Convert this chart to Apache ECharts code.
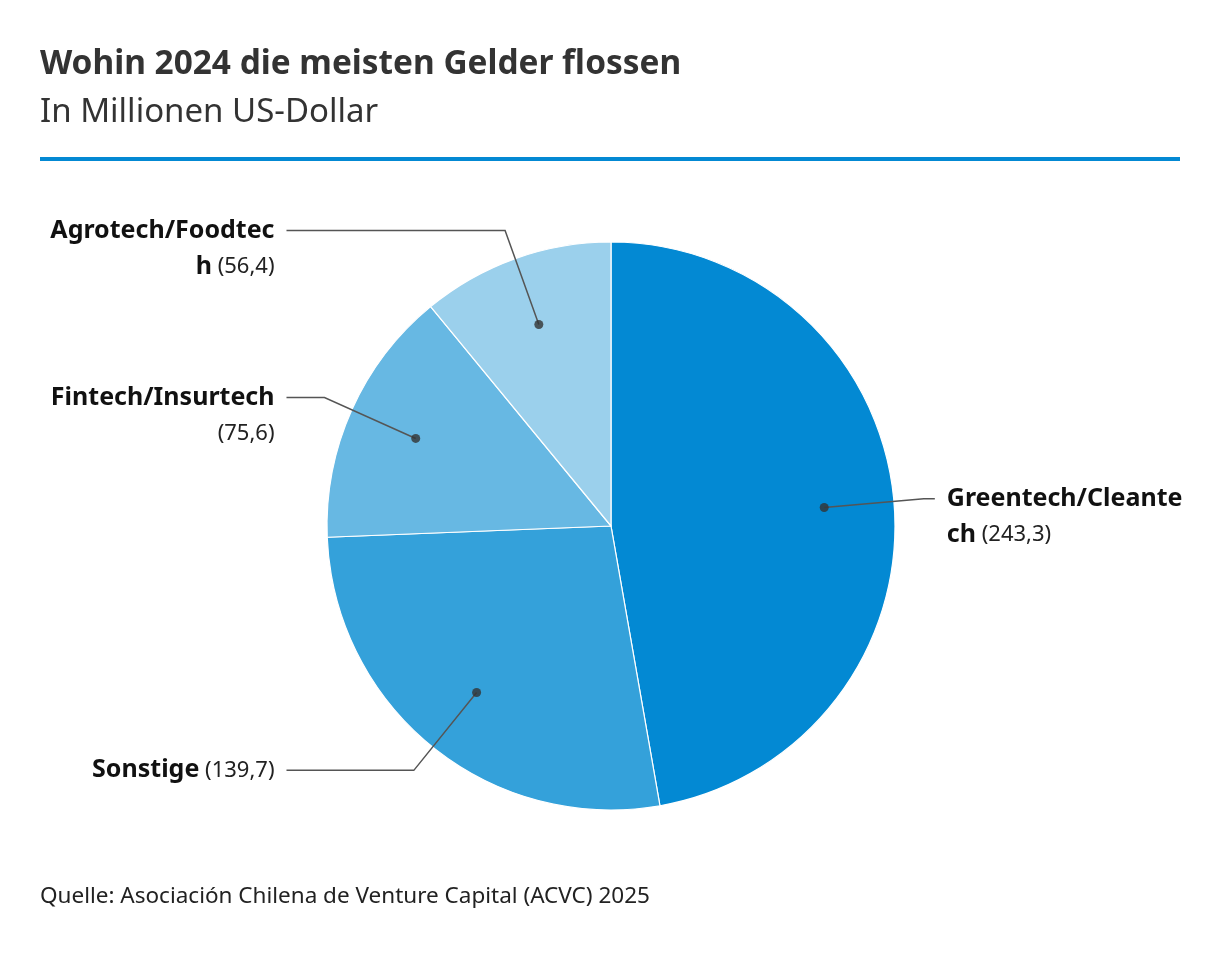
<!DOCTYPE html>
<html><head><meta charset="utf-8">
<script src="https://cdn.jsdelivr.net/npm/echarts@6/dist/echarts.min.js"></script>
<style>html,body{margin:0;padding:0;background:#fff}#c{width:1220px;height:954px}</style>
</head><body><div id="c"></div>
<script>
// ---- data ----
const categories = ['Greentech/Cleantech', 'Sonstige', 'Fintech/Insurtech', 'Agrotech/Foodtech'];
const values = [243.3, 139.7, 75.6, 56.4];
const colors = ['#0389d3', '#34a1da', '#67b8e3', '#9bd0ec'];
const titleText = 'Wohin 2024 die meisten Gelder flossen';
const subtitleText = 'In Millionen US-Dollar';
const sourceText = 'Quelle: Asociación Chilena de Venture Capital (ACVC) 2025';

// ---- styles ----
const FONT = '"Noto Sans", sans-serif';
const LH = 36;
const NAME_SIZE = 25, VALUE_SIZE = 22;
const LABEL_MAX_W = 237;
const len2s = [11, 38, 38, 38];

const total = values.reduce((a, b) => a + b, 0);
const fmtVal = v => '(' + v.toFixed(1).replace('.', ',') + ')';
const mids = [];
let acc = 0;
values.forEach(v => { mids.push(acc + v / 2); acc += v; });

// word wrap with break-word behaviour (like CSS overflow-wrap: break-word)
const ctx = document.createElement('canvas').getContext('2d');
const fonts = { b: 'bold ' + NAME_SIZE + 'px ' + FONT, v: VALUE_SIZE + 'px ' + FONT };
function mw(t, s) { ctx.font = fonts[s]; return ctx.measureText(t).width; }
function wrapLabel(name, value) {
  const words = name.split(' ').map(t => ({ t, s: 'b' })).concat([{ t: fmtVal(value), s: 'v' }]);
  const lines = [[]]; let cw = 0;
  words.forEach(w => {
    const cur = lines[lines.length - 1];
    const sp = cur.length ? mw(' ', w.s) : 0;
    const ww = mw(w.t, w.s);
    if (cw + sp + ww <= LABEL_MAX_W) {
      cur.push({ t: (cur.length ? ' ' : '') + w.t, s: w.s }); cw += sp + ww; return;
    }
    if (ww <= LABEL_MAX_W && cur.length) { lines.push([{ t: w.t, s: w.s }]); cw = ww; return; }
    // break inside the word
    let line = cur.length ? lines.push([]) && lines[lines.length - 1] : cur;
    if (cur.length === 0) cw = 0; else cw = 0;
    let buf = '';
    for (const ch of w.t) {
      const chw = mw(buf + ch, w.s);
      if (chw > LABEL_MAX_W && buf) {
        line.push({ t: buf, s: w.s }); lines.push([]); line = lines[lines.length - 1]; buf = ch;
      } else buf += ch;
    }
    line.push({ t: buf, s: w.s }); cw = mw(buf, w.s);
  });
  const text = lines.filter(l => l.length).map(l => l.map(seg => '{' + seg.s + '|' + seg.t + '}').join('')).join('\n');
  return { text, n: lines.filter(l => l.length).length };
}
const wrapped = categories.map((n, i) => wrapLabel(n, values[i]));

const CENTER = [611, 526];

const chart = echarts.init(document.getElementById('c'), null, { renderer: 'canvas' });
chart.setOption({
  animation: false,
  backgroundColor: '#fff',
  graphic: [
    { type: 'text', left: 40, top: 48, style: { text: titleText, font: 'bold 33.4px ' + FONT, fill: '#333' } },
    { type: 'text', left: 40, top: 96, style: { text: subtitleText, font: '33px ' + FONT, fill: '#333' } },
    { type: 'rect', shape: { x: 40, y: 157, width: 1140, height: 4 }, style: { fill: '#0389d3' } },
    { type: 'text', left: 40, top: 885, style: { text: sourceText, font: '22.5px ' + FONT, fill: '#222' } }
  ],
  polar: { center: CENTER, radius: 214 },
  angleAxis: { type: 'value', min: 0, max: total, startAngle: 90, clockwise: true, show: false },
  radiusAxis: { type: 'value', min: 0, max: 1, show: false },
  series: [
    {
      type: 'pie',
      center: CENTER,
      radius: 284,
      startAngle: 90,
      clockwise: true,
      silent: true,
      label: { show: false },
      labelLine: { show: false },
      itemStyle: { borderColor: '#fff', borderWidth: 1.2 },
      data: categories.map((n, i) => ({ name: n, value: values[i], itemStyle: { color: colors[i] } }))
    },
    {
      type: 'pie',
      center: CENTER,
      radius: 214,
      startAngle: 90,
      clockwise: true,
      silent: true,
      z: 5,
      itemStyle: { color: 'transparent', borderWidth: 0 },
      label: {
        show: true,
        alignTo: 'labelLine',
        distanceToLabelLine: 12,
        formatter: p => wrapped[p.dataIndex].text,
        rich: {
          b: { fontFamily: FONT, fontWeight: 'bold', fontSize: NAME_SIZE, color: '#111', lineHeight: LH },
          v: { fontFamily: FONT, fontSize: VALUE_SIZE, color: '#222', lineHeight: LH }
        }
      },
      labelLine: { show: true, length: 100, lineStyle: { color: '#555', width: 1.5 } },
      data: categories.map((n, i) => ({
        name: n, value: values[i],
        label: { padding: [(wrapped[i].n - 1) * LH, 0, 0, 0] },
        labelLine: { length2: len2s[i] }
      }))
    },
    {
      type: 'scatter',
      coordinateSystem: 'polar',
      silent: true,
      z: 10,
      symbolSize: 9,
      itemStyle: { color: '#333' },
      data: mids.map(m => [1, m])
    }
  ]
});
</script>
</body></html>
